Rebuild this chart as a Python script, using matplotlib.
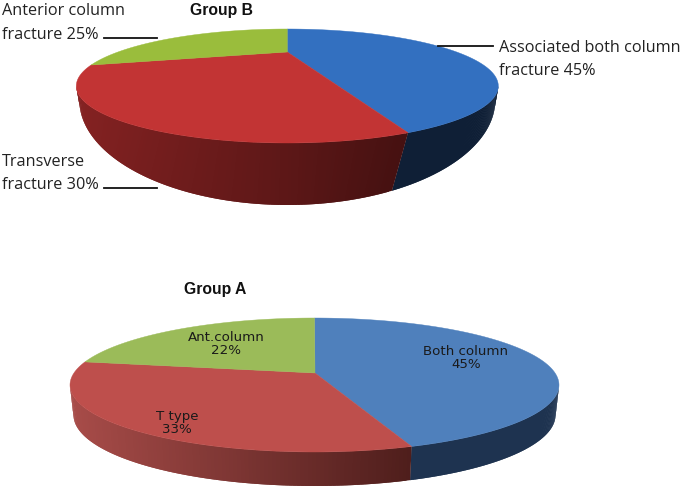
import numpy as np
import matplotlib
matplotlib.use("Agg")
import matplotlib.pyplot as plt
from matplotlib.colors import to_rgb

# Labelled values, as printed on the chart
labels_b = ["Associated both column\nfracture 45%", "Transverse\nfracture 30%", "Anterior column\nfracture 25%"]
labels_a = ["Both column\n45%", "T type\n33%", "Ant.column\n22%"]
# Slice shares as drawn in the picture (perspective distorts them from the printed values)
drawn_b = [40.3, 40.7, 19.0]
drawn_a = [43.5, 37.1, 19.4]

colors_b = ["#3370C0", "#C23434", "#9ABD3C"]
colors_a = ["#4F80BC", "#BE4F4C", "#9BBB59"]
side_b = [("#0F1F36", "#0F1F36"), ("#852222", "#461111"), ("#9ABD3C", "#9ABD3C")]
side_a = [("#1E3350", "#1E3350"), ("#A84C49", "#4F1E1C"), ("#9BBB59", "#9BBB59")]


def pt(e, deg):
    r = np.radians(deg)
    return e[0] + e[2] * np.sin(r), e[1] - e[3] * np.cos(r)


def low_angle(t, twist):
    return t + twist * abs(np.sin(np.radians(2 * (t - 90))))


def pie3d(ax, shares, tops, sides, top, low, apex, twist):
    edges = np.concatenate([[0], np.cumsum(shares)]) / np.sum(shares) * 360
    # side wall: shaded left to right, each strip overlaps the next so no seams show
    for i in range(len(shares)):
        a0, a1 = max(edges[i], 90), min(edges[i + 1], 270)
        if a1 <= a0:
            continue
        ts = np.linspace(a0, a1, 120)
        c_left, c_right = np.array(to_rgb(sides[i][0])), np.array(to_rgb(sides[i][1]))
        x_r, x_l = pt(top, a0)[0], pt(top, a1)[0]
        for k in range(len(ts) - 1):
            t0, t1 = ts[k], ts[min(k + 2, len(ts) - 1)]
            p = [pt(top, t0), pt(top, t1), pt(low, low_angle(t1, twist)), pt(low, low_angle(t0, twist))]
            f = (x_r - pt(top, t0)[0]) / (x_r - x_l)
            ax.fill(*zip(*p), color=c_right + (c_left - c_right) * f, lw=0, zorder=2)
    # top face
    for i in range(len(shares)):
        ts = np.linspace(edges[i], edges[i + 1], 120)
        x, y = pt(top, ts)
        ax.fill(np.r_[apex[0], x], np.r_[apex[1], y], color=tops[i], lw=0.3, zorder=3)


fig = plt.figure(figsize=(6.85, 4.88), dpi=100)
ax = fig.add_axes([0, 0, 1, 1])
ax.set_xlim(0, 685)
ax.set_ylim(488, 0)
ax.axis("off")

pie3d(ax, drawn_b, colors_b, side_b, (287.3, 86, 211, 57), (287.3, 100, 208, 105), (287.3, 52), 5)
pie3d(ax, drawn_a, colors_a, side_a, (314.5, 385, 244.5, 67), (314.5, 415, 241, 71), (315, 373), 0)

title = dict(family="Liberation Sans", weight="bold", fontsize=11.3, ha="center", va="center", color="#111111")
ax.text(222, 11, "Group B", **title)
ax.text(215, 289.5, "Group A", **title)

big = dict(family="Open Sans", fontsize=11.7, color="#222222", va="center", linespacing=1.62)
ax.text(2, 23, labels_b[2], **big)
ax.text(2, 173.5, labels_b[1], **big)
ax.text(499.5, 59.5, labels_b[0], **big)
for xs, ys in [((104, 157), (38, 38)), ((104, 157), (188, 188)), ((438, 493), (46, 46))]:
    ax.plot(xs, ys, color="#111111", lw=1.3, zorder=4)

small = dict(family="DejaVu Sans", fontsize=9.6, color="#1a1a1a", ha="center", va="center", linespacing=0.95, zorder=5)
ax.text(466, 358, labels_a[0], **small)
ax.text(177, 423, labels_a[1], **small)
ax.text(226, 344, labels_a[2], **small)

fig.savefig("out.png", dpi=100)
